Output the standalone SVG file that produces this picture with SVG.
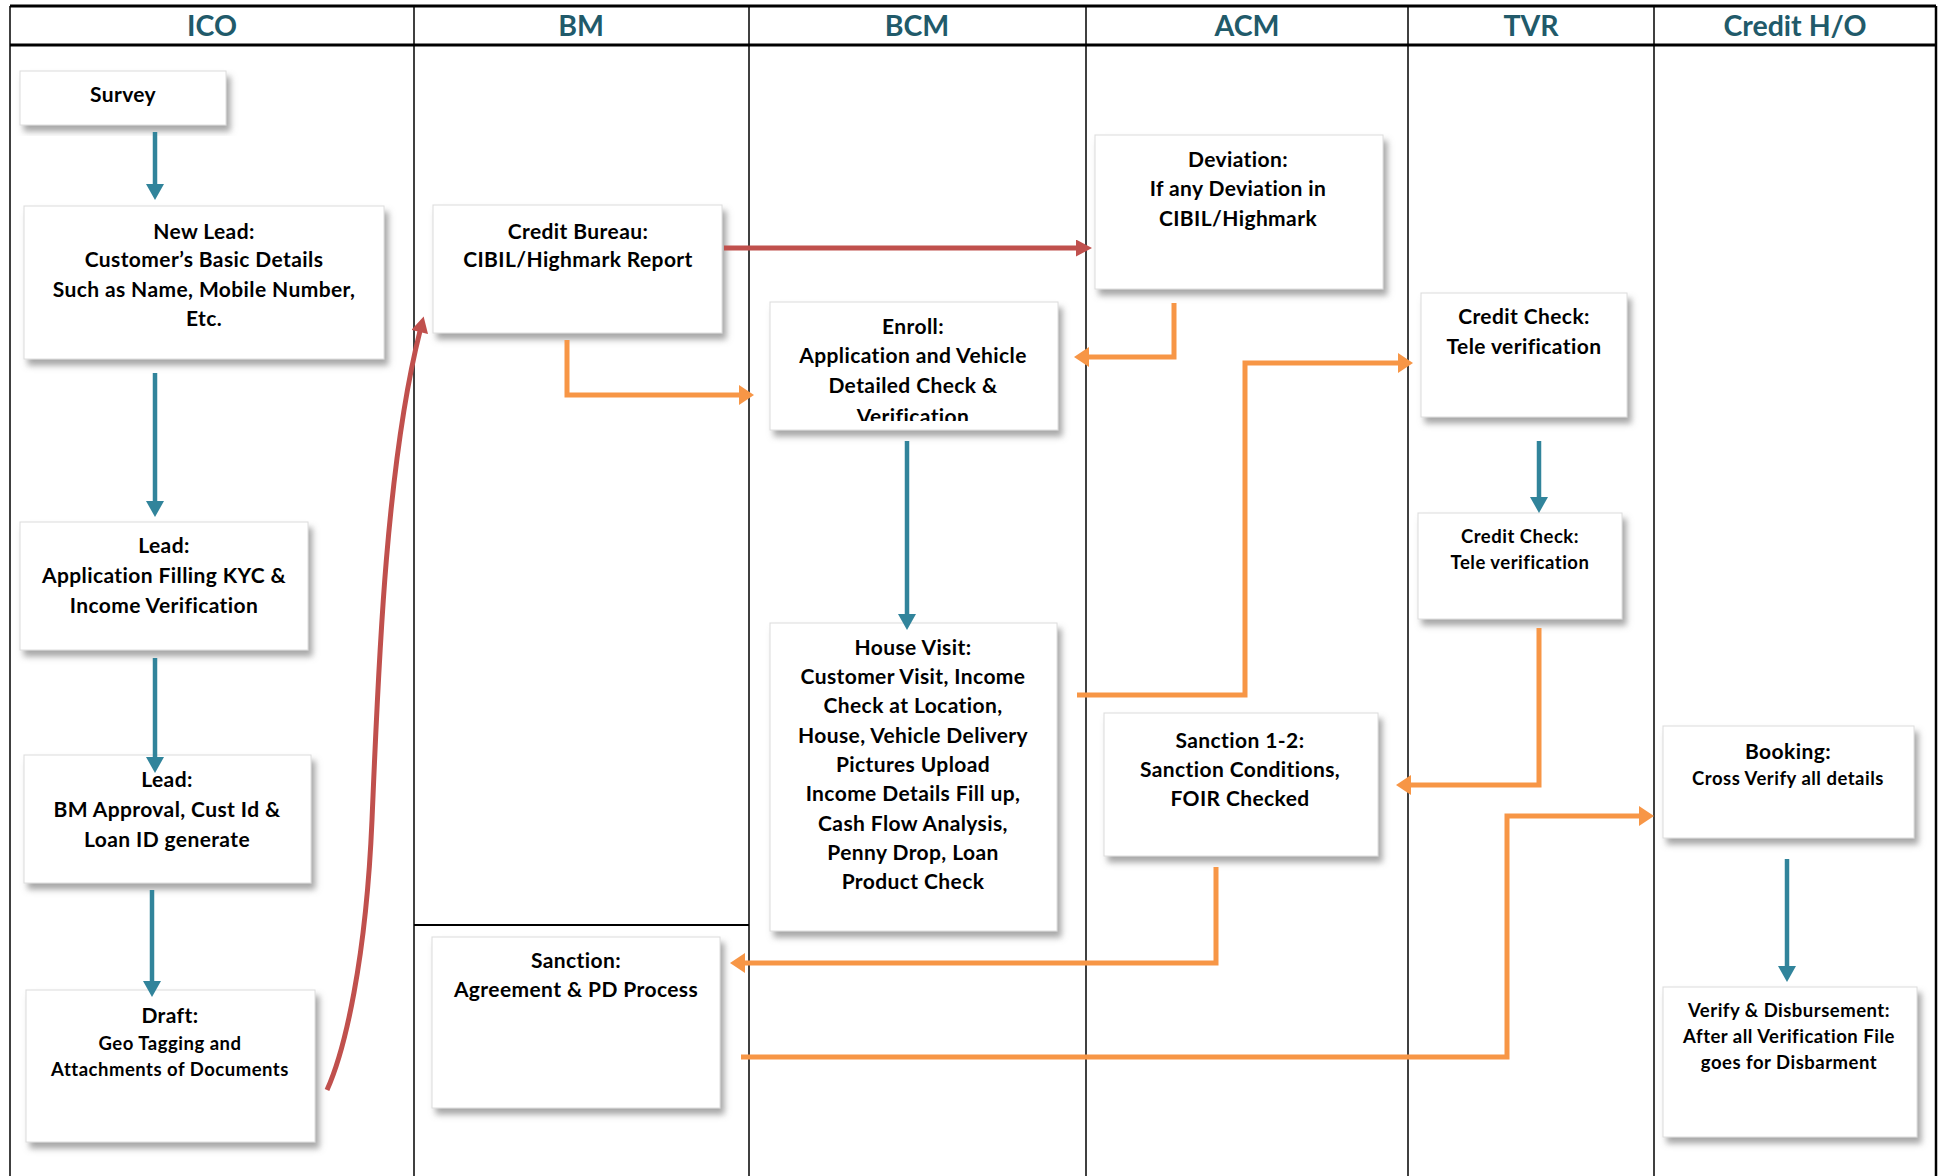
<svg xmlns="http://www.w3.org/2000/svg" width="1942" height="1176" viewBox="0 0 1942 1176">
<style>
.lane{stroke:#000;stroke-width:1.5;fill:none}
.hdr{font-family:Lato,"Open Sans",sans-serif;font-weight:bold;font-size:28.5px;fill:#215A6A;text-anchor:middle}
.box{fill:#fff;stroke:#dcdcdc;stroke-width:1;filter:url(#sh)}
.t{font-family:Lato,"Open Sans",sans-serif;font-weight:bold;font-size:21px;letter-spacing:0.4px;fill:#000;text-anchor:middle}
.s{font-size:18.5px;letter-spacing:0.5px}
.teal{stroke:#31849B;stroke-width:4.5;fill:none;marker-end:url(#mt)}
.red{stroke:#C0504D;stroke-width:5;fill:none;marker-end:url(#mr)}
.org{stroke:#F79646;stroke-width:5;fill:none;marker-end:url(#mo)}
</style>
<defs>
<filter id="sh" x="-10%" y="-10%" width="125%" height="130%">
<feDropShadow dx="4" dy="6" stdDeviation="3" flood-color="#808080" flood-opacity="0.7"/>
</filter>
<marker id="mt" markerUnits="userSpaceOnUse" markerWidth="18" markerHeight="18" viewBox="0 0 16 18" refX="1" refY="9" orient="auto"><path d="M0,0 L16,9 L0,18 z" fill="#31849B"/></marker>
<marker id="mr" markerUnits="userSpaceOnUse" markerWidth="17" markerHeight="17" viewBox="0 0 16 17" refX="1" refY="8.5" orient="auto"><path d="M0,0 L16,8.5 L0,17 z" fill="#C0504D"/></marker>
<marker id="mo" markerUnits="userSpaceOnUse" markerWidth="20" markerHeight="20" viewBox="0 0 15 20" refX="1" refY="10" orient="auto"><path d="M0,0 L15,10 L0,20 z" fill="#F79646"/></marker>
<clipPath id="cEnroll"><rect x="770" y="302" width="288" height="119"/></clipPath>
</defs>
<rect width="1942" height="1176" fill="#fff"/>
<g id="lanes">
<line class="lane" x1="10" y1="6" x2="1936" y2="6" style="stroke-width:3"/>
<line class="lane" x1="10" y1="45" x2="1936" y2="45" style="stroke-width:3"/>
<line class="lane" x1="10" y1="6" x2="10" y2="1176"/>
<line class="lane" x1="414" y1="6" x2="414" y2="1176"/>
<line class="lane" x1="749" y1="6" x2="749" y2="1176"/>
<line class="lane" x1="1086" y1="6" x2="1086" y2="1176"/>
<line class="lane" x1="1408" y1="6" x2="1408" y2="1176"/>
<line class="lane" x1="1654" y1="6" x2="1654" y2="1176"/>
<line class="lane" x1="1936" y1="6" x2="1936" y2="1176" style="stroke-width:2.5"/>
<line class="lane" x1="414" y1="925" x2="749" y2="925" style="stroke-width:2"/>
<text class="hdr" x="212" y="36">ICO</text>
<text class="hdr" x="581" y="36">BM</text>
<text class="hdr" x="917" y="36">BCM</text>
<text class="hdr" x="1247" y="36">ACM</text>
<text class="hdr" x="1531" y="36">TVR</text>
<text class="hdr" x="1795" y="36">Credit H/O</text>
</g>
<g id="survey"><rect class="box" x="20" y="71" width="206" height="54"/><text class="t" x="123" y="102">Survey</text></g>
<g id="new-lead"><rect class="box" x="24" y="206" width="360" height="153"/>
<text class="t" x="204" y="239">New Lead:</text><text class="t" x="204" y="267">Customer’s Basic Details</text><text class="t" x="204" y="297">Such as Name, Mobile Number,</text><text class="t" x="204" y="326">Etc.</text></g>
<g id="lead-1"><rect class="box" x="20" y="522" width="288" height="128"/>
<text class="t" x="164" y="553">Lead:</text><text class="t" x="164" y="583">Application Filling KYC &amp;</text><text class="t" x="164" y="613">Income Verification</text></g>
<g id="lead-2"><rect class="box" x="24" y="755" width="287" height="128"/>
<text class="t" x="167" y="787">Lead:</text><text class="t" x="167" y="817">BM Approval, Cust Id &amp;</text><text class="t" x="167" y="847">Loan ID generate</text></g>
<g id="draft"><rect class="box" x="26" y="990" width="289" height="152"/>
<text class="t" x="170" y="1023">Draft:</text><text class="t s" x="170" y="1050">Geo Tagging and</text><text class="t s" x="170" y="1076">Attachments of Documents</text></g>
<g id="credit-bureau"><rect class="box" x="433" y="205" width="289" height="128"/>
<text class="t" x="578" y="239">Credit Bureau:</text><text class="t" x="578" y="267">CIBIL/Highmark Report</text></g>
<g id="sanction"><rect class="box" x="432" y="937" width="288" height="171"/>
<text class="t" x="576" y="968">Sanction:</text><text class="t" x="576" y="997">Agreement &amp; PD Process</text></g>
<g id="enroll"><rect class="box" x="770" y="302" width="288" height="128"/>
<g clip-path="url(#cEnroll)"><text class="t" x="913" y="334">Enroll:</text><text class="t" x="913" y="363">Application and Vehicle</text><text class="t" x="913" y="393">Detailed Check &amp;</text><text class="t" x="913" y="424">Verification</text></g></g>
<g id="house-visit"><rect class="box" x="770" y="623" width="287" height="308"/>
<text class="t" x="913" y="655">House Visit:</text><text class="t" x="913" y="684">Customer Visit, Income</text><text class="t" x="913" y="713">Check at Location,</text><text class="t" x="913" y="743">House, Vehicle Delivery</text><text class="t" x="913" y="772">Pictures Upload</text><text class="t" x="913" y="801">Income Details Fill up,</text><text class="t" x="913" y="831">Cash Flow Analysis,</text><text class="t" x="913" y="860">Penny Drop, Loan</text><text class="t" x="913" y="889">Product Check</text></g>
<g id="deviation"><rect class="box" x="1095" y="135" width="288" height="154"/>
<text class="t" x="1238" y="167">Deviation:</text><text class="t" x="1238" y="196">If any Deviation in</text><text class="t" x="1238" y="226">CIBIL/Highmark</text></g>
<g id="sanction-1-2"><rect class="box" x="1104" y="713" width="274" height="143"/>
<text class="t" x="1240" y="748">Sanction 1-2:</text><text class="t" x="1240" y="777">Sanction Conditions,</text><text class="t" x="1240" y="806">FOIR Checked</text></g>
<g id="credit-check-1"><rect class="box" x="1421" y="293" width="206" height="124"/>
<text class="t" x="1524" y="324">Credit Check:</text><text class="t" x="1524" y="354">Tele verification</text></g>
<g id="credit-check-2"><rect class="box" x="1418" y="513" width="204" height="106"/>
<text class="t s" x="1520" y="543">Credit Check:</text><text class="t s" x="1520" y="569">Tele verification</text></g>
<g id="booking"><rect class="box" x="1663" y="726" width="251" height="112"/>
<text class="t" x="1788" y="759">Booking:</text><text class="t s" x="1788" y="785">Cross Verify all details</text></g>
<g id="verify-disbursement"><rect class="box" x="1663" y="987" width="254" height="150"/>
<text class="t s" x="1789" y="1017">Verify &amp; Disbursement:</text><text class="t s" x="1789" y="1043">After all Verification File</text><text class="t s" x="1789" y="1069">goes for Disbarment</text></g>
<g id="connectors">
<path class="teal" d="M155,132 V185"/>
<path class="teal" d="M155,373 V502"/>
<path class="teal" d="M155,658 V758"/>
<path class="teal" d="M152,890 V982"/>
<path class="teal" d="M907,441 V615"/>
<path class="teal" d="M1539,441 V498"/>
<path class="teal" d="M1787,859 V967"/>
<path class="red" d="M724,248 H1077"/>
<path class="red" d="M327,1090 C345,1050 366,960 372,820 C378,680 385,470 420,331"/>
<path class="org" d="M567,340 V395 H740"/>
<path class="org" d="M1174,303 V357 H1088"/>
<path class="org" d="M1077,695 H1245 V363 H1399"/>
<path class="org" d="M1539,628 V785 H1410"/>
<path class="org" d="M1216,867 V963 H744"/>
<path class="org" d="M741,1057 H1507 V816 H1640"/>
</g>
</svg>
